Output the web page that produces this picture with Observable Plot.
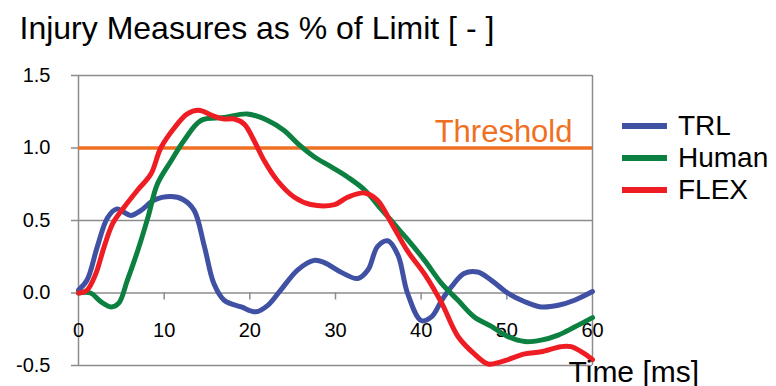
<!DOCTYPE html>
<html>
<head>
<meta charset="utf-8">
<script src="https://cdn.jsdelivr.net/npm/d3@7"></script>
<script src="https://cdn.jsdelivr.net/npm/@observablehq/plot@0.6"></script>
<style>
  body { margin: 0; background: #fff; }
  #wrap { position: relative; width: 776px; height: 386px; }
  #legend { position: absolute; left: 622px; top: 110px; font-family: "Liberation Sans", Arial, sans-serif; font-size: 28px; line-height: 32px; color: #000; }
  .item { display: flex; align-items: center; height: 32px; }
  .sw { width: 45px; height: 6px; margin-right: 11px; }
</style>
</head>
<body>
<div id="wrap"><div id="legend"></div></div>
<script>
const titleText = "Injury Measures as % of Limit [ - ]";
const xLabel = "Time [ms]";
const thresholdLabel = "Threshold";
const thresholdValue = 1.0;

const seriesNames = ["TRL", "Human", "FLEX"];
const seriesColors = ["#4051a4", "#0b8040", "#ee1d24"];
const thresholdColor = "#f07023";

const xTicks = [0, 10, 20, 30, 40, 50, 60];
const yTicks = [-0.5, 0, 0.5, 1.0, 1.5];

const trlTime  = [0, 1, 2.2, 3.4, 4.5, 5.2, 6.1, 7.3, 8.8, 10.8, 12.2, 13.5, 14.7, 15.8, 17, 19, 20.7, 22.1, 23.6, 25.6, 27.5, 28.7, 30.6, 32.6, 33.8, 34.9, 36.1, 37.3, 38.4, 40, 41.2, 42.4, 43.5, 45, 46.6, 48.2, 50.1, 52.1, 54, 56, 57.9, 60];
const trlValue = [0.02, 0.09, 0.32, 0.52, 0.58, 0.56, 0.535, 0.57, 0.64, 0.665, 0.645, 0.57, 0.32, 0.065, -0.05, -0.096, -0.13, -0.085, 0.02, 0.16, 0.225, 0.21, 0.145, 0.10, 0.16, 0.32, 0.36, 0.26, 0.0, -0.19, -0.165, -0.05, 0.04, 0.135, 0.145, 0.087, 0.0, -0.06, -0.096, -0.085, -0.05, 0.01];

const humanTime  = [0, 1.4, 2.6, 3.8, 4.7, 5.7, 6.9, 8.1, 9.2, 10.8, 12.3, 14.3, 17, 19.7, 22.1, 24, 25.6, 27.5, 29.5, 31.4, 33.4, 35.3, 36.5, 37.65, 38.4, 40.4, 42.4, 44.3, 46.2, 48.2, 50.1, 52.1, 54, 56, 57.9, 60];
const humanValue = [0, 0, -0.06, -0.096, -0.07, 0.087, 0.29, 0.52, 0.75, 0.91, 1.05, 1.19, 1.21, 1.235, 1.19, 1.12, 1.03, 0.94, 0.87, 0.80, 0.71, 0.58, 0.50, 0.42, 0.37, 0.225, 0.065, -0.05, -0.165, -0.23, -0.30, -0.335, -0.325, -0.29, -0.235, -0.17];

const flexTime  = [0, 1, 2, 3, 4, 5.3, 6.9, 8.45, 9.6, 11.2, 12.7, 14, 15.8, 17, 18.2, 19.35, 20.5, 21.7, 23.2, 25.2, 27.1, 29.9, 31.4, 33.4, 34.9, 36.5, 38.4, 40.4, 42.4, 44.3, 46.2, 47.8, 49.3, 52.1, 54, 56.3, 57.5, 59.1, 60];
const flexValue = [0, 0.02, 0.13, 0.32, 0.48, 0.59, 0.71, 0.82, 1.0, 1.14, 1.235, 1.26, 1.22, 1.20, 1.20, 1.165, 1.05, 0.91, 0.776, 0.66, 0.61, 0.61, 0.66, 0.69, 0.64, 0.485, 0.29, 0.13, -0.07, -0.30, -0.42, -0.49, -0.475, -0.42, -0.405, -0.37, -0.37, -0.42, -0.46];

const toRows = (ts, vs) => ts.map((t, i) => ({t, v: vs[i]}));
const series = [toRows(trlTime, trlValue), toRows(humanTime, humanValue), toRows(flexTime, flexValue)];

const gray = "#8c8c8c";
const font = "'Liberation Sans', Arial, sans-serif";

const chart = Plot.plot({
  width: 776,
  height: 386,
  marginLeft: 78,
  marginRight: 184,
  marginTop: 75,
  marginBottom: 21,
  x: {domain: [0, 60], axis: null},
  y: {domain: [-0.5, 1.5], axis: null},
  style: {fontFamily: font, fontSize: "20px", background: "#fff", color: "#000"},
  marks: [
    Plot.ruleY(yTicks, {y: d => d, stroke: gray, strokeWidth: 1.5, insetLeft: -7}),
    Plot.ruleX([0, 60], {x: d => d, stroke: gray, strokeWidth: 1.5}),
    Plot.ruleX(xTicks.filter(d => d > 0 && d < 60), {x: d => d, y1: 0, y2: 0, insetBottom: -7, stroke: gray, strokeWidth: 1.5}),
    Plot.text(yTicks, {y: d => d, frameAnchor: "left", dx: -28, textAnchor: "end", text: d => d.toFixed(1), fontSize: 20, fill: "#000"}),
    Plot.text(xTicks, {x: d => d, y: 0, dy: 38, text: d => String(d), fontSize: 20, fill: "#000"}),
    Plot.ruleY([thresholdValue], {y: d => d, stroke: thresholdColor, strokeWidth: 3.5}),
    Plot.text([thresholdLabel], {x: 60, y: thresholdValue, dx: -20, dy: -6, text: d => d, textAnchor: "end", lineAnchor: "bottom", fill: thresholdColor, fontSize: 31}),
    ...series.map((rows, i) => Plot.line(rows, {x: "t", y: "v", stroke: seriesColors[i], strokeWidth: 5, curve: "catmull-rom", strokeLinejoin: "round", strokeLinecap: "round"})),
    Plot.text([titleText], {frameAnchor: "top-left", dx: -59, dy: -37, text: d => d, textAnchor: "start", lineAnchor: "bottom", fontSize: 32, fill: "#000"}),
    Plot.text([xLabel], {frameAnchor: "bottom-right", dx: -24, dy: 16, text: d => d, textAnchor: "start", lineAnchor: "bottom", fontSize: 30, fill: "#000"})
  ]
});

const wrap = document.getElementById("wrap");
wrap.insertBefore(chart, wrap.firstChild);

const legend = document.getElementById("legend");
seriesNames.forEach((name, i) => {
  const item = document.createElement("div");
  item.className = "item";
  const sw = document.createElement("div");
  sw.className = "sw";
  sw.style.background = seriesColors[i];
  const label = document.createElement("span");
  label.textContent = name;
  item.appendChild(sw);
  item.appendChild(label);
  legend.appendChild(item);
});
</script>
</body>
</html>
